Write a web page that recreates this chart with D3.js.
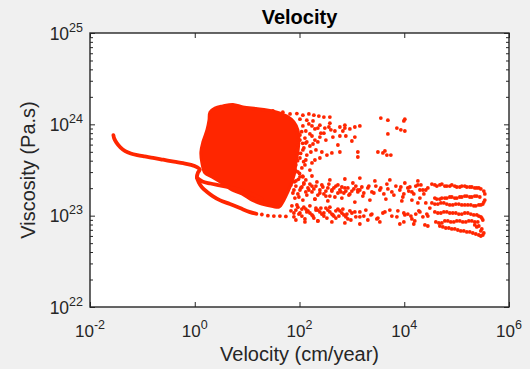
<!DOCTYPE html>
<html><head><meta charset="utf-8">
<script src="https://cdn.jsdelivr.net/npm/d3@7"></script>
<style>
html,body{margin:0;padding:0;background:#f0f0f0;}
svg{display:block;}
text{font-family:"Liberation Sans",Arial,Helvetica,sans-serif;fill:#262626;}
</style></head><body>
<svg id="chart" width="530" height="369"></svg>
<script>
// ---- axis / text data ----
const titleText = "Velocity";
const xLabelText = "Velocity (cm/year)";
const yLabelText = "Viscosity (Pa.s)";
const xTickValues = [1e-2, 1e0, 1e2, 1e4, 1e6];
const xTickExponents = ["-2", "0", "2", "4", "6"];
const yTickValues = [1e22, 1e23, 1e24, 1e25];
const yTickExponents = ["22", "23", "24", "25"];

// ---- data: [velocity cm/yr, viscosity Pa.s] ----
const tailCurve = [
 [0.028,7.6e23],[0.029,7.0e23],[0.032,6.3e23],[0.038,5.6e23],[0.047,5.1e23],[0.06,4.8e23],[0.08,4.6e23],
 [0.11,4.45e23],[0.16,4.3e23],[0.25,4.1e23],[0.4,3.9e23],[0.6,3.75e23],[0.85,3.6e23],[1.1,3.4e23],
 [1.25,3.2e23],[1.15,2.95e23],[1.1,2.65e23],[1.2,2.3e23],[1.37,2.05e23],[1.7,1.83e23],[2.2,1.64e23],
 [3.0,1.48e23],[4.7,1.34e23],[7.3,1.21e23],[11,1.1e23],[15,1.05e23]
];
const middleArc = [
 [1.1,2.6e23],[1.4,2.36e23],[2.0,2.25e23],[3.0,2.15e23],[4.5,2.05e23],[7,1.92e23],[10,1.8e23],[14,1.66e23],[19,1.52e23]
];
const denseCore = [
 [1.95,1.36e24],[2.43,1.51e24],[3.45,1.59e24],[5.36,1.65e24],[8.3,1.55e24],[14.7,1.49e24],[23.9,1.44e24],
 [37.1,1.36e24],[57.5,1.23e24],[78.2,1.06e24],[93.1,8.67e23],[97.3,6.73e23],[93.1,4.98e23],[85.3,3.87e23],
 [81.7,3.01e23],[71.6,2.34e23],[60.1,1.82e23],[50.4,1.48e23],[40.5,1.24e23],[31.1,1.26e23],[19.1,1.34e23],
 [12.4,1.48e23],[7.96,1.73e23],[5.13,1.91e23],[3.3,2.28e23],[2.13,2.66e23],[1.57,2.93e23],[1.37,3.78e23],
 [1.31,4.98e23],[1.43,6.41e23],[1.71,8.67e23],[1.87,1.11e24]
];
const coreFringe = [
 [12.9,1.47e24],[20,1.44e24],[31,1.40e24],[48,1.36e24],[66,1.30e24],[89,1.31e24],[116,1.26e24],[151,1.30e24],
 [188,1.26e24],[234,1.23e24],[292,1.20e24],[380,1.20e24],[102,1.14e24],[138,1.11e24],[181,1.09e24],[245,9.8e23],
 [380,1.03e24],[735,9.8e23],[735,9.1e23],[1420,9.6e23],[305,9.1e23],[397,8.7e23],[590,9.35e23],[1140,9.35e23],
 [3570,1.17e24],[4870,1.11e24],[7230,9.1e23],[8610,8.7e23],[10260,1.14e24],[9820,1.09e24],[4870,7.85e23],[10260,8.45e23],
 [85,8.7e23],[102,7.64e23],[127,7.08e23],[158,7.85e23],[197,6.73e23],[245,7.26e23],[292,8.0e23],[434,7.26e23],
 [590,7.45e23],[767,7.45e23],[1140,7.26e23],[93,5.94e23],[121,5.51e23],[158,5.79e23],[206,5.24e23],[267,4.98e23],
 [334,4.61e23],[415,4.86e23],[590,4.98e23],[1300,4.98e23],[1300,4.39e23],[102,4.28e23],[132,4.07e23],[85,3.59e23],
 [111,3.33e23],[173,3.78e23],[3140,4.98e23],[3910,4.86e23],[4660,4.61e23],[5550,4.61e23],[4270,5.11e23],
 [138,6.41e23],[181,6.09e23],[224,9.1e23],[173,9.6e23],
 [90,8.0e23],[110,8.3e23],[95,6.8e23],[115,6.2e23],[88,5.2e23],[105,4.8e23],[92,4.0e23],[120,3.9e23],
 [85,3.1e23],[100,2.9e23],[95,2.5e23],[115,2.7e23],[80,2.35e23],
 [116,9.6e23],[132,8.45e23],[151,1.01e24],[173,7.45e23],[197,8.9e23],[224,6.41e23],[256,8.0e23],[319,6.73e23],
 [364,9.35e23],[474,8.45e23],[541,5.94e23],[673,8.45e23],[916,8.9e23],[1000,6.57e23],[116,5.24e23],[138,4.61e23],
 [165,4.98e23],[127,3.59e23],[158,3.16e23],[197,4.07e23],[245,4.28e23],[116,2.66e23],[102,6.73e23],[132,6.25e23]
];
const upperBand = [
 [71.6,2.34e23],[85.3,2.11e23],[102,1.91e23],[121,2.22e23],[145,2.01e23],[173,1.82e23],[206,2.11e23],[245,1.91e23],
 [292,1.73e23],[348,2.01e23],[415,1.86e23],[495,2.11e23],[590,1.91e23],[704,1.77e23],[839,2.01e23],[1000,1.86e23],
 [1190,2.11e23],[1420,1.91e23],[1690,1.77e23],[2020,2.01e23],[2410,1.82e23],[2870,2.11e23],[3420,1.91e23],
 [4080,1.73e23],[4870,1.96e23],[5800,1.82e23],[6920,2.11e23],[8240,1.91e23],[9820,1.73e23],[11700,2.01e23],
 [14000,1.82e23],[16600,2.11e23],[19900,1.91e23],[23700,1.73e23],[28200,2.01e23],
 [102,2.66e23],[173,2.72e23],[380,2.46e23],[735,2.52e23],[1420,2.58e23],[2750,2.40e23],[5310,2.46e23],
 [10260,2.28e23],[18200,2.40e23],[74.8,2.86e23],[93,3.01e23],[132,2.46e23],
 [78.2,1.91e23],[93.1,1.73e23],[111,2.06e23],[132,1.82e23],[158,2.22e23],[188,1.96e23],[224,1.68e23],
 [267,2.17e23],[319,1.86e23],[380,1.64e23],[453,2.01e23],[541,1.77e23],[644,2.06e23],[767,1.86e23],
 [916,1.73e23],[1090,1.96e23],[1300,1.82e23],[1550,2.06e23],
 [81.7,1.56e23],[116,1.48e23],[197,1.52e23],[348,1.45e23],[644,1.56e23],[1140,1.41e23],[2210,1.48e23],
 [4460,1.52e23],[8990,1.45e23],[18200,1.38e23],
 [68.6,2.17e23],[74.8,1.77e23],[85.3,2.40e23],[97.3,1.60e23],[106,2.01e23],[121,2.28e23],[138,1.68e23],
 [151,1.91e23],[173,2.11e23],[197,1.52e23],[215,2.34e23],[245,1.77e23],[279,2.06e23],[319,1.64e23],
 [364,2.22e23],[415,1.91e23],[474,1.60e23],[541,2.17e23],[617,1.82e23],[735,2.01e23],[877,1.68e23],
 [1045,2.28e23],[1300,1.91e23],[1620,1.64e23],[2110,2.11e23],[2630,1.77e23],[3570,2.01e23],[4660,2.22e23],
 [6340,1.68e23],[8610,2.06e23],[12200,1.86e23],[15200,1.73e23],[20800,2.17e23],[25800,1.91e23]
];
const lowerBand = [
 [71.6,1.28e23],[85.3,1.15e23],[102,1.07e23],[121,1.24e23],[145,1.13e23],[173,1.02e23],[206,1.21e23],[245,1.10e23],
 [292,9.9e22],[348,1.15e23],[415,1.04e23],[495,9.4e22],[590,1.13e23],[704,1.02e23],[839,9.2e22],[1000,1.07e23],
 [1190,9.7e22],[1420,1.10e23],[1690,9.9e22],[2020,8.97e22],[2410,1.04e23],[3140,9.4e22],[4270,1.10e23],
 [5800,9.9e22],[7550,1.13e23],[10260,1.02e23],[14000,9.2e22],[19900,1.10e23],[28200,9.9e22],
 [78.2,1.07e23],[93.1,1.24e23],[111,9.9e22],[132,1.18e23],[158,1.07e23],[188,9.4e22],[224,1.15e23],
 [267,1.04e23],[319,1.21e23],[380,1.10e23],[453,9.9e22],[541,1.18e23],[644,1.07e23],[767,9.7e22],[916,1.13e23],
 [85.3,8.97e22],[127,8.53e22],[224,8.75e22],[415,8.53e22],[735,8.32e22],[1420,8.11e22],[3420,8.53e22],
 [8240,8.11e22],[15900,8.75e22],
 [19.1,1.03e23],[24.9,1.0e23],[32.4,9.9e22],[42.3,9.9e22],[54.9,9.8e22],
 [68.6,1.13e23],[78.2,9.7e22],[89.2,1.31e23],[97.3,1.04e23],[111,1.18e23],[127,9.2e22],[138,1.10e23],
 [158,1.28e23],[181,9.9e22],[206,1.15e23],[224,8.75e22],[256,1.21e23],[292,1.07e23],[334,9.4e22],
 [380,1.24e23],[434,1.02e23],[495,1.13e23],[565,9.9e22],[673,1.18e23],[803,1.04e23],[957,8.97e22],
 [1140,1.10e23],[1420,9.7e22],[1850,1.15e23],[2310,1.02e23],[3000,9.2e22],[3910,1.07e23],[5310,1.15e23],
 [7230,9.7e22],[9820,1.07e23],[13400,9.9e22],[19000,1.13e23],[27000,1.04e23]
];
const rightLoops = [
 [33700,2.22e23],[41900,2.11e23],[52200,2.22e23],[65000,2.11e23],[80900,2.17e23],[100800,2.06e23],[125600,2.11e23],
 [156500,2.06e23],[195000,2.06e23],[242800,2.01e23],[289800,1.96e23],[330600,1.86e23],[345500,1.73e23],
 [277300,1.60e23],[222400,1.64e23],[178600,1.60e23],[143300,1.64e23],[115100,1.60e23],[92300,1.56e23],
 [74100,1.60e23],[59600,1.56e23],[47800,1.52e23],[38400,1.56e23],
 [345500,1.48e23],[33700,1.38e23],[43800,1.34e23],[57000,1.38e23],[74100,1.31e23],[96500,1.34e23],
 [125600,1.31e23],[163600,1.31e23],[212800,1.28e23],[265200,1.31e23],[316400,1.34e23],
 [38400,1.10e23],[50000,1.07e23],[65000,1.10e23],[84500,1.07e23],[110100,1.04e23],[143300,1.07e23],
 [186600,1.04e23],[242800,1.02e23],[289800,9.7e22],[316400,8.97e22],
 [253800,8.53e22],[195000,8.75e22],[149800,8.53e22],[115100,8.75e22],[88400,8.53e22],[67900,8.75e22],
 [52200,8.32e22],[40100,8.53e22],
 [47800,7.71e22],[62200,7.33e22],[80900,7.15e22],[105400,6.97e22],[137100,6.80e22],[178600,6.63e22],
 [232300,6.30e22],[289800,5.99e22],[330600,6.46e22],[302800,7.15e22],[265200,7.71e22],[222400,7.91e22],
 [12800,2.06e23],[18200,2.17e23],[22700,1.91e23],[9400,1.60e23],[14000,1.48e23],[19900,1.56e23],
 [25800,1.38e23],[11700,1.04e23],[16600,1.04e23],[22700,9.7e22],[9820,8.53e22],[15200,8.11e22],
 [24800,7.91e22],[30800,1.21e23],[28200,7.71e22],
 [38400,2.17e23],[47800,2.17e23],[59600,2.11e23],[74100,2.11e23],[92300,2.11e23],[115100,2.06e23],
 [143300,2.11e23],[178600,2.06e23],[222400,2.01e23],[265200,2.01e23],
 [242800,1.64e23],[195000,1.60e23],[156500,1.64e23],[125600,1.60e23],[100800,1.56e23],[80900,1.60e23],
 [65000,1.56e23],[52200,1.56e23],[41900,1.52e23],
 [38400,1.34e23],[50000,1.38e23],[65000,1.34e23],[84500,1.31e23],[110100,1.34e23],[143300,1.31e23],
 [186600,1.31e23],[232300,1.28e23],[289800,1.31e23],[330600,1.41e23],
 [43800,1.07e23],[57000,1.10e23],[74100,1.07e23],[96500,1.07e23],[125600,1.04e23],[163600,1.07e23],
 [212800,1.02e23],[265200,9.9e22],[302800,9.4e22],
 [222400,8.53e22],[171000,8.75e22],[131200,8.53e22],[100800,8.75e22],[77400,8.53e22],[59600,8.75e22],[45700,8.32e22],
 [54600,7.52e22],[71000,7.33e22],[92300,7.15e22],[120200,6.80e22],[156500,6.63e22],[203700,6.46e22],
 [265200,6.14e22],[316400,6.14e22],[289800,6.80e22],[242800,7.52e22]
];

// ---- drawing ----
const red = "#ff2600";
const axisColor = "#262626";
const plot = {left: 90, right: 509, top: 33, bottom: 307};
const svg = d3.select("#chart");
svg.append("rect").attr("width", 530).attr("height", 369).attr("fill", "#f0f0f0");
svg.append("rect").attr("x", plot.left).attr("y", plot.top)
   .attr("width", plot.right - plot.left).attr("height", plot.bottom - plot.top).attr("fill", "#ffffff");

const x = d3.scaleLog().domain([1e-2, 1e6]).range([plot.left, plot.right]);
const y = d3.scaleLog().domain([1e22, 1e25]).range([plot.bottom, plot.top]);

const data = svg.append("g");
data.append("path").datum(denseCore)
  .attr("d", d3.line().x(d => x(d[0])).y(d => y(d[1])).curve(d3.curveCatmullRomClosed))
  .attr("fill", red).attr("stroke", red).attr("stroke-width", 3).attr("stroke-linejoin", "round");
const lineGen = d3.line().x(d => x(d[0])).y(d => y(d[1])).curve(d3.curveCatmullRom);
[tailCurve, middleArc].forEach(arr => {
  data.append("path").datum(arr).attr("d", lineGen)
    .attr("fill", "none").attr("stroke", red).attr("stroke-width", 3.8)
    .attr("stroke-linecap", "round").attr("stroke-linejoin", "round");
});
[coreFringe, upperBand, lowerBand, rightLoops].forEach(arr => {
  data.append("g").selectAll("circle").data(arr).join("circle")
    .attr("cx", d => x(d[0])).attr("cy", d => y(d[1])).attr("r", 1.9).attr("fill", red);
});

// ---- axes ----
function styleAxis(g) {
  g.select(".domain").remove();
  g.selectAll(".tick line").attr("stroke", axisColor).attr("stroke-width", 1);
  g.selectAll(".tick text").remove();
}
const noFmt = () => "";
svg.append("g").attr("transform", `translate(0,${plot.bottom})`)
  .call(d3.axisBottom(x).tickValues(xTickValues).tickSizeInner(-5).tickSizeOuter(0).tickFormat(noFmt)).call(styleAxis);
svg.append("g").attr("transform", `translate(0,${plot.top})`)
  .call(d3.axisTop(x).tickValues(xTickValues).tickSizeInner(-5).tickSizeOuter(0).tickFormat(noFmt)).call(styleAxis);
const yMinor = y.ticks().filter(v => !yTickValues.some(t => Math.abs(t - v) / t < 1e-6));
svg.append("g").attr("transform", `translate(${plot.left},0)`)
  .call(d3.axisLeft(y).tickValues(yTickValues).tickSizeInner(-5).tickSizeOuter(0).tickFormat(noFmt)).call(styleAxis);
svg.append("g").attr("transform", `translate(${plot.left},0)`)
  .call(d3.axisLeft(y).tickValues(yMinor).tickSizeInner(-3).tickSizeOuter(0).tickFormat(noFmt)).call(styleAxis);
svg.append("g").attr("transform", `translate(${plot.right},0)`)
  .call(d3.axisRight(y).tickValues(yTickValues).tickSizeInner(-5).tickSizeOuter(0).tickFormat(noFmt)).call(styleAxis);
svg.append("g").attr("transform", `translate(${plot.right},0)`)
  .call(d3.axisRight(y).tickValues(yMinor).tickSizeInner(-3).tickSizeOuter(0).tickFormat(noFmt)).call(styleAxis);

svg.append("rect").attr("x", plot.left).attr("y", plot.top)
   .attr("width", plot.right - plot.left).attr("height", plot.bottom - plot.top)
   .attr("fill", "none").attr("stroke", axisColor).attr("stroke-width", 1.4);

// tick labels
const xl = svg.append("g").selectAll("text").data(xTickValues).join("text")
  .attr("x", d => x(d)).attr("y", 337).attr("text-anchor", "middle").attr("font-size", 17);
xl.append("tspan").text("10");
xl.append("tspan").attr("dy", -8).attr("font-size", 12.5).text((d, i) => xTickExponents[i]);

const yl = svg.append("g").selectAll("text").data(yTickValues).join("text")
  .attr("x", 83).attr("y", d => y(d) + 6.5).attr("text-anchor", "end").attr("font-size", 17.5);
yl.append("tspan").text("10");
yl.append("tspan").attr("dy", -8).attr("font-size", 12.5).text((d, i) => yTickExponents[i]);

// titles
svg.append("text").attr("x", (plot.left + plot.right) / 2).attr("y", 24).attr("text-anchor", "middle")
  .attr("font-size", 20).attr("font-weight", "bold").style("fill", "#000").text(titleText);
svg.append("text").attr("x", (plot.left + plot.right) / 2).attr("y", 361).attr("text-anchor", "middle")
  .attr("font-size", 20).text(xLabelText);
svg.append("text").attr("transform", `translate(35,${(plot.top + plot.bottom) / 2}) rotate(-90)`)
  .attr("text-anchor", "middle").attr("font-size", 20).text(yLabelText);
</script>
</body></html>
